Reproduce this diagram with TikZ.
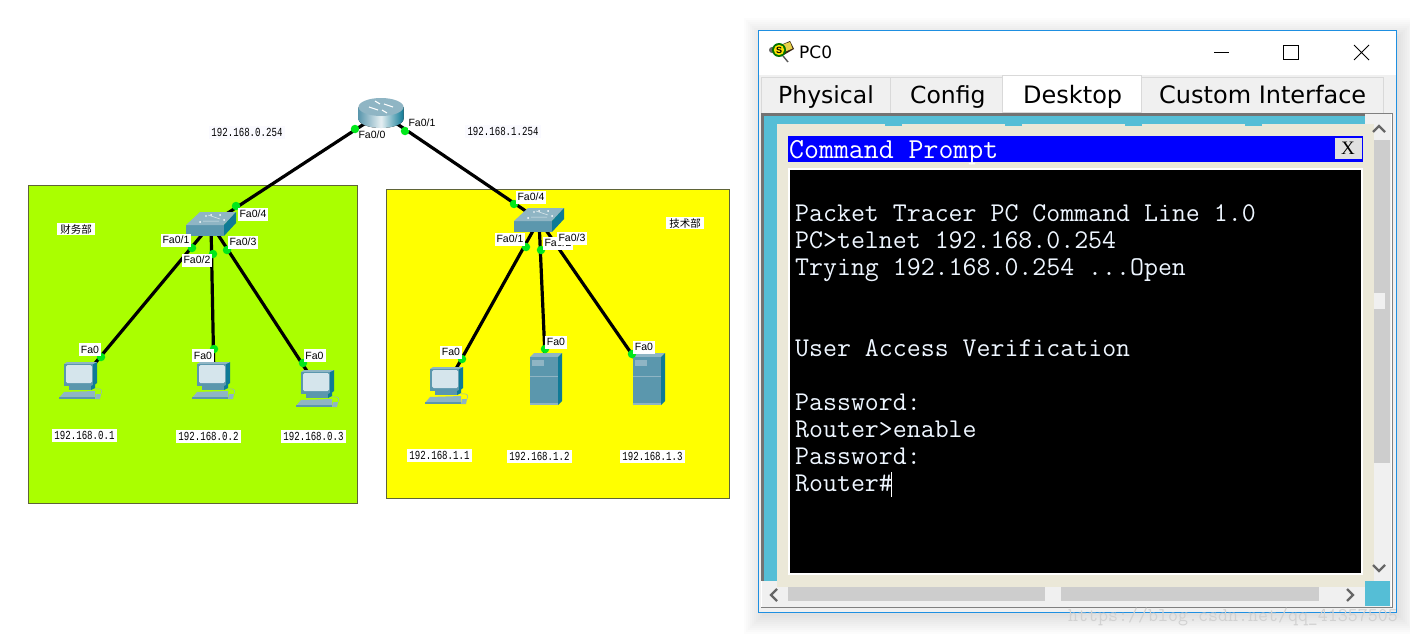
\documentclass[tikz,border=0pt]{standalone}
\usepackage{fontspec}
\setmainfont{Liberation Sans}
\newfontfamily\cjkfont{Noto Sans CJK SC}
\newfontfamily\ipfont[FakeStretch=0.74]{Liberation Mono}
\newfontfamily\uifont{DejaVu Sans}
\newfontfamily\serfont{Liberation Serif}
\definecolor{gbox}{HTML}{AAFF00}
\definecolor{ybox}{HTML}{FFFF00}
\definecolor{boxedge}{HTML}{5F6438}
\definecolor{portgreen}{HTML}{00E81A}
\definecolor{icofront}{HTML}{5B97AD}
\definecolor{icotop}{HTML}{8FB5C4}
\definecolor{icodark}{HTML}{0F7A96}
\definecolor{icolight}{HTML}{D5E5EC}
\definecolor{winblue}{HTML}{1E8FE1}
\definecolor{tabbg}{HTML}{F0F0F0}
\definecolor{tabedge}{HTML}{D9D9D9}
\definecolor{teal}{HTML}{55BED6}
\definecolor{beige}{HTML}{EBE8D8}
\definecolor{sbgray}{HTML}{CDCDCD}
\definecolor{arrowgray}{HTML}{666666}
\definecolor{termtext}{HTML}{EEF6FF}
\tikzset{
  zone/.style={draw=boxedge,line width=1pt},
  link/.style={line width=3.2pt,black},
  devnode/.style={inner sep=0pt,minimum width=#1,minimum height=#1},
  portdot/.style={circle,fill=portgreen,inner sep=0pt,minimum size=8.5pt},
  portlabel/.style={fill=white,inner sep=0pt,minimum width=30pt,minimum height=13pt,font=\fontsize{10.5}{12}\selectfont},
  pclabel/.style={fill=white,inner sep=0pt,minimum width=22pt,minimum height=13pt,font=\fontsize{10.5}{12}\selectfont},
  iplabel/.style={fill=white,inner sep=0pt,minimum width=65pt,minimum height=13pt,font=\ipfont\fontsize{12.3}{13}\selectfont},
  gwlabel/.style={fill=blue!2,inner sep=0pt,minimum width=76pt,minimum height=13pt,font=\ipfont\fontsize{12.3}{13}\selectfont},
  deptlabel/.style={fill=white,inner sep=0pt,minimum width=38pt,minimum height=12pt,font=\cjkfont\fontsize{10.5}{12}\selectfont},
  tabtext/.style={anchor=base west,inner sep=0pt,font=\uifont\fontsize{#1}{28}\selectfont,black},
  termline/.style={anchor=base west,inner sep=0pt,font=\ttfamily\fontsize{27.1}{28}\selectfont,termtext},
  chev/.style={draw=arrowgray,line width=2.4pt},
  routericon/.pic={
    \fill[left color=icofront,right color=icodark,middle color=white!85!icofront] (-22.5,-6) -- (-22.5,6) arc[start angle=180,end angle=0,x radius=22.5,y radius=9] -- (22.5,-6) -- cycle;
    \fill[icotop] (0,-6) ellipse[x radius=22.5,y radius=9];
    \draw[white,line width=1.1pt] (-12,-6)--(-3,-3) (12,-6)--(3,-9) (-6,-12)--(-1,-9) (6,0)--(1,-3);
  },
  switchicon/.pic={
    \fill[icofront] (-25,1) rectangle (13,12);
    \fill[icotop] (-25,1)--(13,1)--(25,-12)--(-11,-12)--cycle;
    \fill[icodark] (13,1)--(25,-12)--(25,-1)--(13,12)--cycle;
    \fill[white] (-11,-2) circle (1) (0,-9) circle (1) (9,-9) circle (1) (13,-4) circle (1) (-5,-8) circle (.8);
    \draw[white!70!icotop,line width=.5pt] (-8,-3)--(8,-3) (-3,-9)--(9,-5);
  },
  pcicon/.pic={
    \fill[icodark] (12,-17)--(16,-18)--(16,3)--(12,6)--cycle;
    \fill[icotop] (-17,-16)--(-14,-18)--(16,-18)--(12,-16)--cycle;
    \fill[icofront] (-17,-16) rectangle (12,6);
    \fill[icolight,rounded corners=1.5pt] (-15,-15) rectangle (11,3);
    \fill[icofront] (-12,6) rectangle (10,10);
    \fill[icodark] (10,6)--(14,4)--(14,8)--(10,10)--cycle;
    \fill[icotop] (-17,12)--(14,11)--(14,18)--(-22,18)--cycle;
    \fill[icofront] (-22,17) rectangle (14,18.5);
    \fill[icotop] (15,14)--(20,14)--(19,19)--(14,19)--cycle;
    \draw[icotop,line width=.5pt] (14,9) .. controls (20,8) and (22,10) .. (20,14);
  },
  servericon/.pic={
    \fill[icotop] (-16,-22)--(-12,-26)--(16,-26)--(12,-22)--cycle;
    \fill[icofront] (-16,-22) rectangle (12,26);
    \fill[icodark] (12,-22)--(16,-26)--(16,22)--(12,26)--cycle;
    \fill[icotop] (-14,-19) rectangle (-2,-13);
    \draw[icotop,line width=.6pt] (-16,-3)--(12,-3);
    \fill[icotop] (-16,24) rectangle (12,26);
  },
}
\begin{document}
\begin{tikzpicture}[x=1pt,y=-1pt]
\useasboundingbox (0,0) rectangle (1410,634);
% ---- network zones
\fill[white] (0,0) rectangle (1410,634);
\draw[zone,fill=gbox] (28,185) rectangle (357,503);
\draw[zone,fill=ybox] (386,189) rectangle (729,498);
% ---- device anchors
\node[devnode=40pt] (router) at (381,113) {};
\node[devnode=30pt] (swA) at (211,224) {};
\node[devnode=30pt] (swB) at (539,220) {};
\node[devnode=36pt] (pcA) at (81,380) {};
\node[devnode=36pt] (pcB) at (214,380) {};
\node[devnode=36pt] (pcC) at (318,388) {};
\node[devnode=36pt] (pcD) at (447,385) {};
\node[devnode=36pt] (srvA) at (546,379) {};
\node[devnode=36pt] (srvB) at (649,379) {};
% ---- links
\draw[link] (router.center) -- (swA.center);
\draw[link] (router.center) -- (swB.center);
\draw[link] (swA.center) -- (pcA.center);
\draw[link] (swA.center) -- (pcB.center);
\draw[link] (swA.center) -- (pcC.center);
\draw[link] (swB.center) -- (pcD.center);
\draw[link] (swB.center) -- (srvA.center);
\draw[link] (swB.center) -- (srvB.center);
% ---- icons
\pic at (router.center) {routericon};
\pic at (swA.center) {switchicon};
\pic at (swB.center) {switchicon};
\pic at (pcA.center) {pcicon};
\pic at (pcB.center) {pcicon};
\pic at (pcC.center) {pcicon};
\pic at (pcD.center) {pcicon};
\pic at (srvA.center) {servericon};
\pic at (srvB.center) {servericon};
% ---- port dots
\foreach \n/\x/\y in {d1/355/129,d2/405/131,d3/236/206,d4/192/248,d5/213/254,d6/227/250,d7/514/204,d8/526/247,d9/541/250,d10/101/357,d11/214/349,d12/303/363,d13/462/359,d14/545/349,d15/632/354}
  \node[portdot] (\n) at (\x,\y) {};
% ---- port labels
\node[portlabel,minimum width=27pt] (l1) at (372,135) {Fa0/0};
\node[portlabel,minimum width=28pt] (l2) at (422,123) {Fa0/1};
\node[portlabel] (l3) at (253,214) {Fa0/4};
\node[portlabel] (l4) at (176,240) {Fa0/1};
\node[portlabel] (l5) at (197,260) {Fa0/2};
\node[portlabel] (l6) at (243,242) {Fa0/3};
\node[portlabel] (l7) at (531,197) {Fa0/4};
\node[portlabel] (l8) at (510,239) {Fa0/1};
\node[portlabel] (l9) at (558,243) {Fa0/2};
\node[portlabel] (l10) at (572,238) {Fa0/3};
\node[pclabel] (l11) at (90,349.5) {Fa0};
\node[pclabel] (l12) at (203,355.5) {Fa0};
\node[pclabel] (l13) at (314.5,355.5) {Fa0};
\node[pclabel] (l14) at (451,352) {Fa0};
\node[pclabel] (l15) at (556,342) {Fa0};
\node[pclabel] (l16) at (644,347) {Fa0};
% ---- address labels
\node[gwlabel] (g1) at (247,132) {192.168.0.254};
\node[gwlabel] (g2) at (503,131) {192.168.1.254};
\node[iplabel] (i1) at (84.5,435.5) {192.168.0.1};
\node[iplabel] (i2) at (208.5,436.5) {192.168.0.2};
\node[iplabel] (i3) at (313.5,436.5) {192.168.0.3};
\node[iplabel] (i4) at (439.5,455.5) {192.168.1.1};
\node[iplabel] (i5) at (539.5,456.5) {192.168.1.2};
\node[iplabel] (i6) at (652.5,456.5) {192.168.1.3};
\node[deptlabel] (dA) at (76,229) {财务部};
\node[deptlabel] (dB) at (685,223) {技术部};
% ---- window shadow
\foreach \e in {20,18,...,2}
  \fill[black,opacity=.012] (758-\e+6,30-\e+8) rectangle (1397+\e,612+\e+2);
% ---- window
\draw[winblue,fill=white,line width=1pt] (758.5,30.5) rectangle (1396.5,612);
\fill[tabbg] (759,75) rectangle (1396,611.5);
\foreach \n/\a/\b in {t1/761/890,t2/890/1002,t3/1141/1383}
  \draw[tabedge,fill=tabbg,line width=.8pt] (\a,112.5)--(\a,77.5)--(\b,77.5)--(\b,112.5);
\draw[tabedge,fill=white,line width=.8pt] (1002.5,112.5)--(1002.5,75.5)--(1141.5,75.5)--(1141.5,112.5)--cycle;
\node[tabtext=23.5] (tabP) at (778,103) {Physical};
\node[tabtext=23.5] (tabC) at (910,103) {Config};
\node[tabtext=24] (tabD) at (1023,103) {Desktop};
\node[tabtext=24] (tabI) at (1159,103) {Custom Interface};
\node[anchor=base west,inner sep=0pt,font=\uifont\fontsize{17}{20}\selectfont] (wtitle) at (799,58.5) {PC0};
% title icon
\fill[black!60] (772,50) circle (3);
\draw[black!65,line width=1.4pt] (783,56)--(788,62);
\fill[black!70!brown] (776,47)--(790,41)--(794,49)--(782,56)--cycle;
\fill[brown!45!yellow!80!white] (777,46.5)--(790,42)--(792.5,48.5)--(782,53)--cycle;
\fill[green!45!black] (779,50) circle (7);
\fill[yellow!85!orange] (779,50) circle (5.2);
\node[inner sep=0pt,font=\bfseries\fontsize{9}{9}\selectfont,text=black] (ws) at (779,50) {S};
% window buttons
\draw[black,line width=.9pt] (1214,52)--(1229,52);
\draw[black,line width=1pt] (1283.5,45.5) rectangle (1298,59.5);
\draw[black,line width=.8pt] (1354,45)--(1369,60) (1369,45)--(1354,60);
% content frame
\fill[white] (761,113) rectangle (1392,607.5);
\draw[black!50,line width=.8pt] (761,113) -- (1392,113) -- (1392,607.5) -- (761,607.5);
\fill[tabbg] (762,114) rectangle (1391,607);
\fill[black!55] (761,113) rectangle (1365,116);
\fill[black!55] (761,113) rectangle (764,581);
\fill[teal] (764,116) rectangle (1365,581);
\fill[beige] (777,124) rectangle (1374,587);
\foreach \a in {885,1005,1125,1245}
  \fill[teal] (\a,124) rectangle (\a+17,125.5);
\fill[blue] (788,136) rectangle (1363,162);
\fill[white] (788,168) rectangle (1363,575);
\fill[black] (790,170) rectangle (1361,573);
\node[anchor=base west,inner sep=0pt,font=\ttfamily\fontsize{29}{30}\selectfont,white] (cmdt) at (789,158) {Command Prompt};
\node[draw=blue,line width=.6pt,fill=black!12,inner sep=0pt,minimum width=28pt,minimum height=22pt,font=\serfont\fontsize{19}{20}\selectfont,text=black] (xbtn) at (1348,148) {X};
% terminal text
\node[termline] (tl1) at (795,221) {Packet Tracer PC Command Line 1.0};
\node[termline] (tl2) at (795,248) {PC>telnet 192.168.0.254};
\node[termline] (tl3) at (795,275) {Trying 192.168.0.254 ...Open};
\node[termline] (tl4) at (795,356) {User Access Verification};
\node[termline] (tl5) at (795,410) {Password:};
\node[termline] (tl6) at (795,437) {Router>enable};
\node[termline] (tl7) at (795,464) {Password:};
\node[termline] (tl8) at (795,491) {Router\#};
\draw[white,line width=1pt] (891.5,472) -- (891.5,497);
% scrollbars
\fill[sbgray] (1374,140) rectangle (1390,463);
\fill[tabbg] (1374,293) rectangle (1385,309);
\fill[sbgray] (788,587) rectangle (1319,601);
\fill[tabbg] (1045,587) rectangle (1061,601);
\fill[teal] (1365,581) rectangle (1390,606);
\draw[chev] (1373,132)--(1379,126)--(1385,132);
\draw[chev] (1373,565)--(1379,571)--(1385,565);
\draw[chev] (777,589)--(771,595)--(777,601);
\draw[chev] (1347,589)--(1353,595)--(1347,601);
% watermark
\node[anchor=base west,inner sep=0pt,font=\ttfamily\fontsize{19.4}{20}\selectfont,black!18] (wm) at (1068,621) {https://blog.csdn.net/qq\_41357505};
\end{tikzpicture}
\end{document}
